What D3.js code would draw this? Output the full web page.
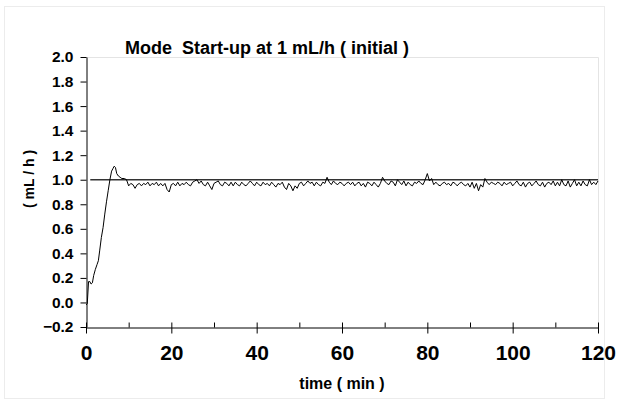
<!DOCTYPE html>
<html>
<head>
<meta charset="utf-8">
<script src="https://cdn.jsdelivr.net/npm/d3@7"></script>
<style>
  body { margin: 0; background: #fff; }
  svg text { font-family: Arial, "Liberation Sans", sans-serif; font-weight: bold; fill: #000; white-space: pre; }
  .domain { stroke: #000; }
</style>
</head>
<body>
<script>
//hardcoded parameters
var svg_width = 620;
var svg_height = 402;
var plot_left = 86, plot_right = 598, plot_top = 57, plot_bottom = 327;

//data: start-up transient (time min, flow mL/h)
var startup_time = [0, 0.3, 0.6, 0.9, 1.2, 1.5, 1.8, 2.2, 2.6, 2.9, 3.2, 3.6, 4.0, 4.4, 4.8,
                    5.2, 5.6, 6.0, 6.3, 6.6, 6.9, 7.2, 7.6, 8.0, 8.4];
var startup_flow = [-0.02, -0.01, 0.17, 0.17, 0.15, 0.16, 0.22, 0.27, 0.31, 0.34, 0.42, 0.53, 0.61, 0.72, 0.82,
                    0.91, 1.00, 1.07, 1.09, 1.11, 1.10, 1.05, 1.03, 1.02, 1.01];
//steady part, sampled every 0.5 min from 9 min
var steady_start = 9;
var steady_step = 0.5;
var steady_flow = [
  1.01,1.00,0.95,0.97,0.96,0.93,0.96,0.97,0.95,0.97,0.96,0.98,0.95,0.97,0.96,0.98,0.95,0.97,0.95,0.97,
  0.92,0.90,0.96,0.97,0.95,0.98,0.95,0.97,0.96,0.98,0.96,0.95,0.98,0.99,1.00,0.97,0.99,0.96,0.95,0.98,
  0.95,0.92,0.97,0.98,0.99,0.96,0.95,0.98,0.97,0.95,0.98,0.95,0.98,0.96,0.95,0.98,0.96,0.95,0.97,0.99,
  0.97,0.95,0.98,0.96,0.95,0.98,0.96,0.97,0.95,0.98,0.96,0.94,0.97,0.96,0.98,0.94,0.92,0.97,0.95,0.91,
  0.95,0.93,0.97,0.98,0.95,0.97,0.99,0.97,0.98,0.95,0.98,0.96,0.95,0.98,0.97,1.02,0.98,0.96,0.99,0.97,
  0.96,0.98,0.97,0.95,0.97,0.98,0.96,0.98,0.95,0.97,0.98,0.95,0.97,0.94,0.98,0.97,0.95,0.98,0.96,0.94,
  0.97,1.02,0.99,0.97,0.96,0.99,0.98,0.95,1.00,0.98,0.96,0.99,0.95,0.98,0.96,0.95,0.98,0.97,0.99,0.97,
  0.96,1.00,1.05,0.99,1.01,0.96,0.98,0.96,0.95,0.97,0.98,0.96,0.97,0.95,0.98,0.97,0.95,0.97,0.98,0.96,
  0.95,0.97,0.94,0.98,0.93,0.97,0.91,0.96,0.94,1.01,0.98,0.96,0.98,0.97,0.96,0.98,0.97,0.95,0.98,0.96,
  0.97,0.98,0.95,0.97,0.99,0.96,0.95,0.98,0.94,0.97,0.98,0.95,0.97,0.99,0.96,0.95,0.98,0.94,0.97,0.98,
  0.96,0.99,0.95,0.98,0.95,1.00,0.96,0.95,0.99,0.94,0.97,1.00,0.95,0.98,0.95,0.99,0.96,0.95,1.00,0.96,
  0.98,0.96,0.99
];
//set point line
var setpoint = 1.0;
var setpoint_range = [1, 120];
//axis ticks
var x_ticks = [0, 20, 40, 60, 80, 100, 120];
var x_minor = [10, 30, 50, 70, 90, 110];
var y_ticks = [-0.2, 0, 0.2, 0.4, 0.6, 0.8, 1.0, 1.2, 1.4, 1.6, 1.8, 2.0];

var title = 'Mode  Start-up at 1 mL/h ( initial )';
var x_label = 'time ( min )';
var y_label = '( mL / h )';

//build series
var series = [];
for (var i = 0; i < startup_time.length; i++) series.push([startup_time[i], startup_flow[i]]);
for (var j = 0; j < steady_flow.length; j++) series.push([steady_start + j*steady_step, steady_flow[j]]);

var svg = d3.select('body').append('svg')
    .attr('width', svg_width)
    .attr('height', svg_height);

//outer frame
svg.append('rect')
    .attr('x', 4.5).attr('y', 6.5)
    .attr('width', 600).attr('height', 392)
    .attr('fill', 'none').attr('stroke', '#ececec');

//scales
var scale_x = d3.scaleLinear().domain([0, 120]).range([plot_left, plot_right]);
var scale_y = d3.scaleLinear().domain([-0.2, 2.0]).range([plot_bottom, plot_top]);

//plot area border (faint, top and right)
svg.append('path')
    .attr('d', 'M' + plot_left + ',' + (plot_top+0.5) + 'H' + (plot_right+0.5) + 'V' + plot_bottom)
    .attr('fill', 'none').attr('stroke', '#e4e4e4');

//y axis
var axis_y = d3.axisLeft(scale_y).tickValues(y_ticks).tickFormat(d3.format('.1f'))
    .tickSize(6).tickSizeOuter(0).tickPadding(7);
var gy = svg.append('g').attr('transform', 'translate(' + (plot_left+0.5) + ',0)').call(axis_y);
gy.selectAll('text').style('font-size', '15.5px');

//x axis
var axis_x = d3.axisBottom(scale_x).tickValues(x_ticks).tickFormat(d3.format('d'))
    .tickSize(6).tickSizeOuter(0).tickPadding(12);
var gx = svg.append('g').attr('transform', 'translate(0,' + (plot_bottom+0.5) + ')').call(axis_x);
gx.selectAll('text').style('font-size', '21px');
gx.selectAll('.tick line').attr('y1', -5);
gx.selectAll('.minor').data(x_minor).enter().append('line')
    .attr('x1', function(d) { return scale_x(d) + 0.5; })
    .attr('x2', function(d) { return scale_x(d) + 0.5; })
    .attr('y1', -5).attr('y2', 0)
    .attr('stroke', '#000');

//set point line
svg.append('line')
    .attr('x1', scale_x(setpoint_range[0])).attr('x2', scale_x(setpoint_range[1]))
    .attr('y1', scale_y(setpoint)).attr('y2', scale_y(setpoint))
    .attr('stroke', '#333').attr('stroke-width', 1.4);

//flow curve
var line = d3.line()
    .x(function(d) { return scale_x(d[0]); })
    .y(function(d) { return scale_y(d[1]); });
svg.append('path')
    .datum(series)
    .attr('d', line)
    .attr('fill', 'none')
    .attr('stroke', '#000')
    .attr('stroke-width', 1);

//title and labels
svg.append('text').attr('x', 125).attr('y', 54).style('font-size', '18px').text(title);
svg.append('text').attr('x', 342).attr('y', 389).attr('text-anchor', 'middle')
    .style('font-size', '16px').text(x_label);
svg.append('text').attr('transform', 'translate(34,179) rotate(-90)').attr('text-anchor', 'middle')
    .style('font-size', '14px').text(y_label);
</script>
</body>
</html>
